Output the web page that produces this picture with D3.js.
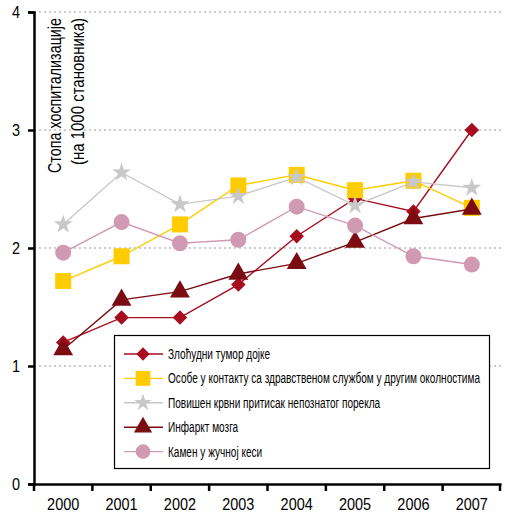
<!DOCTYPE html>
<html lang="sr">
<head>
<meta charset="UTF-8">
<title>Стопа хоспитализације</title>
<script src="https://cdn.jsdelivr.net/npm/d3@7"></script>
<style>
  body { margin: 0; background: #fff; }
  text { font-family: 'Liberation Sans', Arial, sans-serif; }
</style>
</head>
<body>
<script>
const years = ["2000", "2001", "2002", "2003", "2004", "2005", "2006", "2007"];
const yTicks = [0, 1, 2, 3, 4];

const tumor = [1.20, 1.41, 1.41, 1.69, 2.10, 2.42, 2.31, 3.00];
const kontakt = [1.72, 1.93, 2.20, 2.53, 2.62, 2.49, 2.57, 2.34];
const pritisak = [2.20, 2.64, 2.37, 2.44, 2.60, 2.36, 2.56, 2.51];
const infarkt = [1.14, 1.56, 1.63, 1.78, 1.87, 2.05, 2.25, 2.33];
const kamen = [1.96, 2.22, 2.04, 2.07, 2.35, 2.19, 1.93, 1.86];

const series = [
  { name: "Злоћудни тумор дојке", values: tumor, color: "#a80c1f", symbol: d3.symbolSquare, size: 105, rot: 45 },
  { name: "Особе у контакту са здравственом службом у другим околностима", values: kontakt, color: "#ffcc00", symbol: d3.symbolSquare, size: 256, rot: 0 },
  { name: "Повишен крвни притисак непознатог порекла", values: pritisak, color: "#c8c8c8", symbol: d3.symbolStar, size: 110, rot: 0 },
  { name: "Инфаркт мозга", values: infarkt, color: "#7b0d12", symbol: d3.symbolTriangle, size: 170, rot: 0 },
  { name: "Камен у жучној кеси", values: kamen, color: "#d09ab2", symbol: d3.symbolCircle, size: 200, rot: 0 }
];

const W = 506, H = 519;
const margin = { left: 34, right: 5, top: 12, bottom: 35 };

// squeeze text horizontally to mimic a condensed face
function squeeze(sel, k) {
  sel.each(function () {
    const len = this.getComputedTextLength();
    d3.select(this).attr("textLength", len * k).attr("lengthAdjust", "spacingAndGlyphs");
  });
}

const svg = d3.select("body").append("svg").attr("width", W).attr("height", H);

const x = d3.scaleBand().domain(years).range([margin.left, W - margin.right]);
const y = d3.scaleLinear().domain([0, 4]).range([H - margin.bottom, margin.top]);
const cx = d => x(d) + x.bandwidth() / 2;

// grid
svg.append("g").selectAll("line")
  .data(yTicks.filter(d => d > 0))
  .join("line")
  .attr("x1", margin.left).attr("x2", W - margin.right)
  .attr("y1", d => y(d)).attr("y2", d => y(d))
  .attr("stroke", "#999").attr("stroke-width", 1)
  .attr("stroke-dasharray", "2,3");

// lines + markers
const line = d3.line().x((d, i) => cx(years[i])).y(d => y(d));

series.forEach(s => {
  const g = svg.append("g");
  g.append("path").attr("d", line(s.values))
    .attr("fill", "none").attr("stroke", s.color).attr("stroke-width", 1.4);
  g.selectAll("path.m").data(s.values).join("path").attr("class", "m")
    .attr("d", d3.symbol(s.symbol, s.size))
    .attr("transform", (d, i) => `translate(${cx(years[i])},${y(d)}) rotate(${s.rot})`)
    .attr("fill", s.color);
});

// axes
const yAxis = svg.append("g").attr("transform", `translate(${margin.left},0)`)
  .call(d3.axisLeft(y).tickValues(yTicks).tickFormat(d3.format("d")).tickSize(6).tickPadding(8));
const xAxis = svg.append("g").attr("transform", `translate(0,${H - margin.bottom})`)
  .call(d3.axisBottom(x).tickSize(0).tickPadding(14));

[yAxis, xAxis].forEach(a => {
  a.select(".domain").attr("stroke", "#000").attr("stroke-width", 2.5);
  a.selectAll(".tick line").attr("stroke", "#000").attr("stroke-width", 2.5);
  a.selectAll("text").attr("font-size", 17).attr("fill", "#000")
    .style("font-family", "'Liberation Sans', Arial, sans-serif");
});
squeeze(xAxis.selectAll(".tick text"), 0.85);
squeeze(yAxis.selectAll(".tick text"), 0.85);

// x ticks at band edges
xAxis.selectAll("line.edge")
  .data(years.concat(["end"]))
  .join("line").attr("class", "edge")
  .attr("x1", (d, i) => i < years.length ? x(d) : x.range()[1] - 1)
  .attr("x2", (d, i) => i < years.length ? x(d) : x.range()[1] - 1)
  .attr("y1", 0).attr("y2", 7)
  .attr("stroke", "#000").attr("stroke-width", 2.5);

// y title
svg.append("text")
  .attr("transform", "translate(61,18) rotate(-90)")
  .attr("text-anchor", "end").attr("font-size", 18)
  .attr("textLength", 155).attr("lengthAdjust", "spacingAndGlyphs")
  .text("Стопа хоспитализације");
svg.append("text")
  .attr("transform", "translate(84,18) rotate(-90)")
  .attr("text-anchor", "end").attr("font-size", 18)
  .attr("textLength", 147).attr("lengthAdjust", "spacingAndGlyphs")
  .text("(на 1000 становника)");

// legend
const legend = svg.append("g");
legend.append("rect")
  .attr("x", 114.5).attr("y", 335.5).attr("width", 375).attr("height", 133)
  .attr("fill", "#fff").attr("stroke", "#000").attr("stroke-width", 1.2);

const legendTexts = [];
series.forEach((s, i) => {
  const ly = 354 + i * 24.4;
  const g = legend.append("g").attr("transform", `translate(0,${ly})`);
  g.append("line").attr("x1", 124).attr("x2", 163).attr("y1", 0).attr("y2", 0)
    .attr("stroke", s.color).attr("stroke-width", 1.4);
  g.append("path").attr("d", d3.symbol(s.symbol, s.size * 0.85))
    .attr("transform", `translate(143,0) rotate(${s.rot})`).attr("fill", s.color);
  legendTexts.push(g.append("text").attr("x", 168).attr("y", 0).attr("dy", "0.35em")
    .attr("font-size", 14).text(s.name).node());
});
const longest = d3.max(legendTexts, t => t.getComputedTextLength());
squeeze(d3.selectAll(legendTexts), 312 / longest);
</script>
</body>
</html>
